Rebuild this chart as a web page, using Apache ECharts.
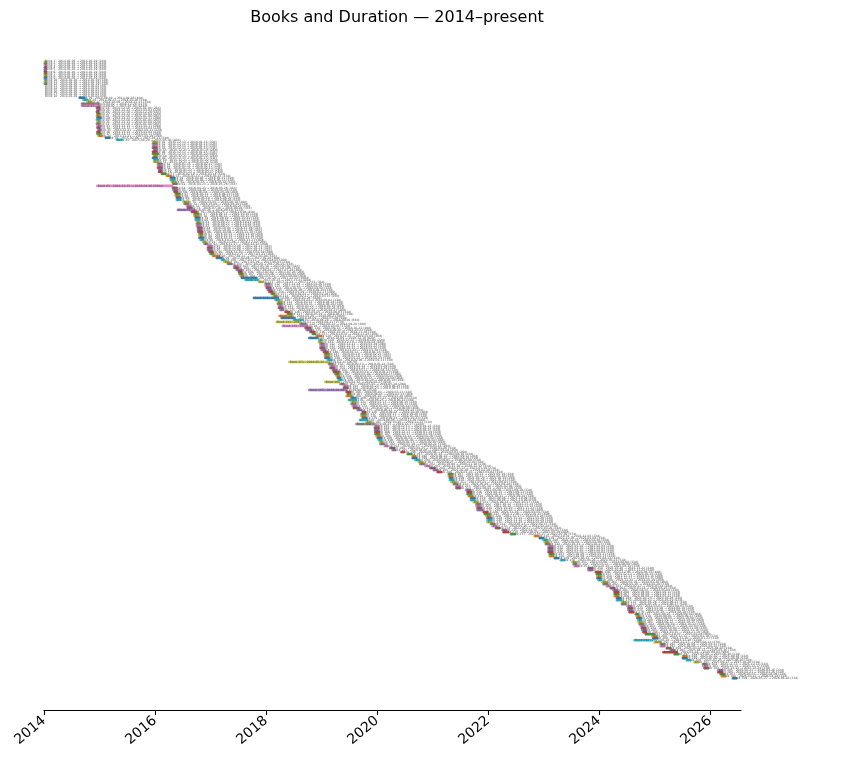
<!DOCTYPE html>
<html>
<head>
<meta charset="utf-8">
<script src="https://cdn.jsdelivr.net/npm/echarts@6/dist/echarts.min.js"></script>
<style>html,body{margin:0;padding:0;background:#fff}#c{width:864px;height:757px}</style>
</head>
<body>
<div id="c"></div>
<script>
// Start / end of each book, in decimal years (top row first)
const startYear = [
2014.00,2014.00,2014.00,2014.00,2014.00,2014.00,2014.00,2014.00,2014.00,2014.00,
2014.00,2014.00,2014.00,2014.00,2014.00,2014.00,2014.00,2014.00,2014.63,2014.70,
2014.77,2014.67,2014.67,2014.94,2014.95,2014.94,2014.95,2014.94,2014.95,2014.94,
2014.95,2014.94,2014.95,2014.95,2014.97,2014.95,2014.95,2014.97,2015.10,2015.30,
2015.95,2015.95,2015.95,2015.95,2015.97,2015.95,2015.95,2015.97,2015.95,2015.97,
2015.97,2016.04,2016.04,2016.04,2016.06,2016.06,2016.11,2016.20,2016.27,2016.27,
2016.29,2016.31,2014.95,2016.31,2016.32,2016.34,2016.36,2016.36,2016.38,2016.38,
2016.50,2016.52,2016.56,2016.58,2016.40,2016.65,2016.70,2016.70,2016.72,2016.72,
2016.74,2016.74,2016.74,2016.76,2016.76,2016.77,2016.79,2016.79,2016.79,2016.81,
2016.85,2016.88,2016.94,2016.94,2016.94,2016.97,2016.99,2017.03,2017.10,2017.19,
2017.24,2017.30,2017.41,2017.42,2017.46,2017.50,2017.51,2017.53,2017.55,2017.62,
2017.86,2017.98,2017.98,2018.00,2018.02,2018.05,2018.09,2018.13,2017.77,2018.16,
2018.20,2018.20,2018.22,2018.22,2018.25,2018.34,2018.38,2018.23,2018.27,2018.49,
2018.18,2018.61,2018.29,2018.70,2018.72,2018.79,2018.83,2018.90,2018.77,2018.95,
2018.94,2018.97,2018.97,2018.97,2018.99,2019.03,2019.05,2019.05,2019.06,2019.10,
2018.41,2019.12,2019.15,2019.15,2019.19,2019.21,2019.24,2019.26,2019.28,2019.30,
2019.06,2019.33,2019.39,2019.39,2018.77,2019.44,2019.46,2019.44,2019.53,2019.48,
2019.53,2019.53,2019.55,2019.57,2019.64,2019.73,2019.71,2019.71,2019.73,2019.68,
2019.80,2019.62,2019.95,2019.95,2019.95,2019.96,2019.96,2019.98,2020.00,2020.02,
2020.04,2020.05,2020.13,2020.23,2020.27,2020.43,2020.54,2020.63,2020.63,2020.68,
2020.74,2020.77,2020.86,2020.95,2021.01,2021.08,2021.28,2021.28,2021.30,2021.30,
2021.33,2021.37,2021.41,2021.42,2021.60,2021.62,2021.62,2021.64,2021.68,2021.68,
2021.73,2021.78,2021.78,2021.80,2021.80,2021.91,2021.93,2021.96,2021.98,2021.98,
2021.98,2022.04,2022.07,2022.13,2022.25,2022.27,2022.40,2022.83,2022.92,2022.99,
2023.01,2023.03,2023.08,2023.08,2023.08,2023.08,2023.10,2023.10,2023.19,2023.30,
2023.51,2023.53,2023.55,2023.80,2023.80,2023.93,2023.95,2023.96,2023.96,2023.98,
2024.05,2024.07,2024.13,2024.20,2024.25,2024.27,2024.27,2024.27,2024.31,2024.31,
2024.40,2024.40,2024.50,2024.52,2024.52,2024.54,2024.65,2024.67,2024.68,2024.70,
2024.70,2024.72,2024.74,2024.76,2024.77,2024.79,2024.83,2024.95,2024.97,2024.63,
2024.99,2025.10,2025.10,2025.21,2025.28,2025.15,2025.35,2025.50,2025.50,2025.57,
2025.71,2025.86,2025.87,2025.89,2026.14,2026.14,2026.18,2026.20,2026.40
];
const endYear = [
2014.05,2014.05,2014.05,2014.05,2014.05,2014.05,2014.05,2014.05,2014.05,2014.05,
2014.05,2014.05,2014.00,2014.00,2014.00,2014.00,2014.00,2014.00,2014.74,2014.79,
2014.86,2014.99,2015.01,2015.01,2015.01,2014.99,2015.01,2015.01,2015.03,2015.01,
2015.01,2015.01,2015.03,2015.01,2015.03,2015.01,2015.03,2015.05,2015.19,2015.41,
2016.04,2016.04,2016.04,2016.04,2016.04,2016.04,2016.06,2016.04,2016.04,2016.06,
2016.06,2016.13,2016.13,2016.13,2016.13,2016.13,2016.20,2016.29,2016.36,2016.36,
2016.38,2016.40,2016.32,2016.40,2016.41,2016.41,2016.45,2016.45,2016.47,2016.47,
2016.61,2016.61,2016.65,2016.67,2016.72,2016.76,2016.79,2016.79,2016.81,2016.81,
2016.81,2016.83,2016.83,2016.85,2016.85,2016.86,2016.86,2016.86,2016.88,2016.88,
2016.92,2016.95,2017.03,2017.03,2017.03,2017.05,2017.06,2017.17,2017.21,2017.26,
2017.33,2017.39,2017.50,2017.51,2017.57,2017.57,2017.59,2017.60,2017.84,2017.86,
2017.95,2018.07,2018.07,2018.09,2018.11,2018.13,2018.16,2018.20,2018.23,2018.25,
2018.29,2018.29,2018.29,2018.31,2018.32,2018.43,2018.47,2018.47,2018.52,2018.67,
2018.61,2018.72,2018.76,2018.81,2018.83,2018.88,2018.90,2019.01,2018.94,2019.01,
2019.01,2019.05,2019.06,2019.06,2019.08,2019.12,2019.14,2019.14,2019.15,2019.19,
2019.14,2019.21,2019.24,2019.24,2019.28,2019.32,2019.32,2019.33,2019.35,2019.37,
2019.32,2019.41,2019.48,2019.48,2019.46,2019.53,2019.53,2019.55,2019.62,2019.64,
2019.62,2019.62,2019.64,2019.68,2019.73,2019.80,2019.80,2019.80,2019.82,2019.84,
2019.89,2019.96,2020.04,2020.04,2020.04,2020.05,2020.05,2020.07,2020.09,2020.09,
2020.11,2020.14,2020.20,2020.32,2020.34,2020.50,2020.63,2020.70,2020.72,2020.77,
2020.83,2020.86,2020.95,2021.05,2021.10,2021.17,2021.37,2021.37,2021.37,2021.39,
2021.42,2021.46,2021.50,2021.51,2021.69,2021.71,2021.71,2021.73,2021.77,2021.77,
2021.82,2021.87,2021.87,2021.89,2021.91,2022.00,2022.04,2022.05,2022.07,2022.07,
2022.07,2022.13,2022.16,2022.22,2022.34,2022.38,2022.50,2022.92,2023.01,2023.08,
2023.10,2023.12,2023.17,2023.17,2023.17,2023.17,2023.19,2023.19,2023.28,2023.39,
2023.60,2023.60,2023.64,2023.89,2023.89,2024.04,2024.04,2024.04,2024.04,2024.05,
2024.16,2024.16,2024.20,2024.29,2024.34,2024.36,2024.36,2024.36,2024.40,2024.41,
2024.49,2024.49,2024.59,2024.61,2024.61,2024.63,2024.72,2024.74,2024.77,2024.77,
2024.79,2024.81,2024.83,2024.85,2024.86,2024.86,2025.01,2025.05,2025.06,2024.97,
2025.12,2025.19,2025.19,2025.30,2025.37,2025.42,2025.44,2025.59,2025.59,2025.66,
2025.80,2025.95,2025.96,2025.98,2026.23,2026.23,2026.27,2026.29,2026.49
];
const xTicks = [2014, 2016, 2018, 2020, 2022, 2024, 2026];
const titleText = 'Books and Duration — 2014–present';

const palette = ['#1f77b4','#ff7f0e','#2ca02c','#d62728','#9467bd',
                 '#8c564b','#e377c2','#7f7f7f','#bcbd22','#17becf'];

function fmtDate(y) {
  const yr = Math.floor(y);
  const ms = Date.UTC(yr, 0, 1) + (y - yr) * 365.25 * 864e5;
  return new Date(ms).toISOString().slice(0, 10);
}
const n = startYear.length;
const labels = startYear.map((s, i) => {
  const days = Math.round((endYear[i] - s) * 365.25);
  return 'Book ' + (i + 1) + ' · ' + fmtDate(s) + ' → ' + fmtDate(endYear[i]) + ' (' + days + 'd)';
});
const data = startYear.map((s, i) => [s, endYear[i], i]);

const chart = echarts.init(document.getElementById('c'), null, {renderer: 'canvas'});
chart.setOption({
  animation: false,
  backgroundColor: '#fff',
  title: {
    text: titleText, left: 392, top: 5, textAlign: 'center',
    textStyle: {fontFamily: 'DejaVu Sans', fontWeight: 'normal', fontSize: 16, color: '#000'}
  },
  grid: {left: 44, right: 123, top: 30, bottom: 47},
  xAxis: {
    type: 'value', min: 2014, max: 2026.56, position: 'bottom',
    axisLine: {onZero: false, lineStyle: {color: '#000', width: 1.1}},
    axisTick: {show: true, length: 5, customValues: xTicks, lineStyle: {color: '#000', width: 1.1}},
    splitLine: {show: false},
    axisLabel: {
      customValues: xTicks, rotate: 40, margin: 9, color: '#000', fontSize: 14,
      fontFamily: 'DejaVu Sans', formatter: v => String(Math.round(v))
    }
  },
  yAxis: {type: 'value', inverse: true, min: -15.84, max: 323.84, show: false},
  series: [{
    type: 'custom',
    clip: false,
    encode: {x: [0, 1], y: 2},
    renderItem: function (params, api) {
      const s = api.value(0), e = api.value(1), idx = api.value(2);
      const p0 = api.coord([s, idx]);
      const p1 = api.coord([e, idx]);
      const h = api.size([0, 0.8])[1];
      const color = palette[(n - 1 - idx) % 10];
      const w = Math.max(p1[0] - p0[0], 0);
      const children = [];
      if (w > 0) {
        children.push({
          type: 'rect',
          shape: {x: p0[0], y: p0[1] - h / 2, width: w, height: h},
          style: {fill: color, opacity: 0.85, stroke: color, lineWidth: 1}
        });
      }
      children.push({
        type: 'text',
        x: p0[0] + 1, y: p0[1],
        style: {text: labels[idx], fontSize: 3, fontFamily: 'DejaVu Sans',
                fill: '#555', verticalAlign: 'middle', align: 'left'}
      });
      return {type: 'group', children: children};
    },
    data: data
  }]
});
</script>
</body>
</html>
